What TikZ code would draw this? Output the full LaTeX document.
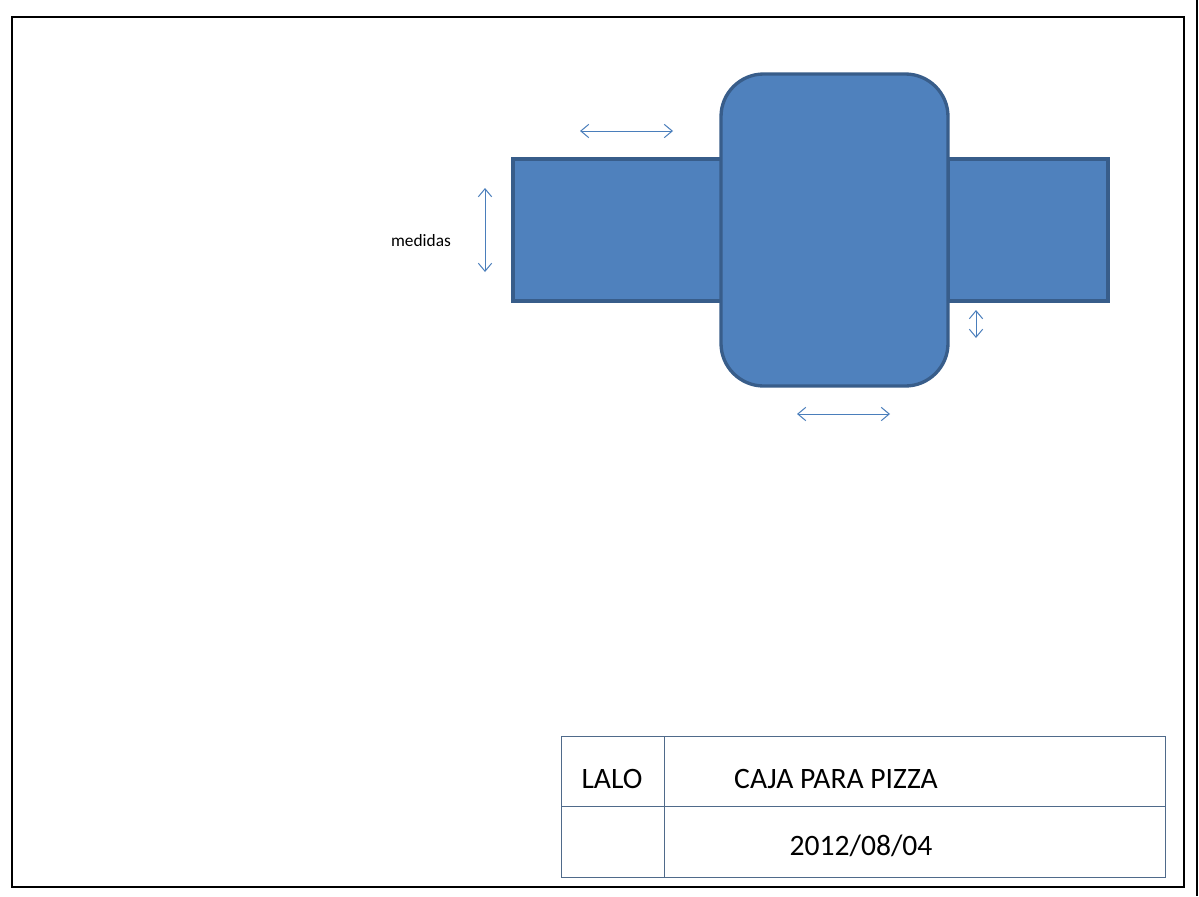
\documentclass[tikz,border=0pt]{standalone}
\usepackage{fontspec}
\setmainfont{Carlito}
\usetikzlibrary{arrows.meta}
\definecolor{shapefill}{HTML}{4F81BD}
\definecolor{shapeline}{HTML}{385D8A}
\definecolor{dimline}{HTML}{4A7EBB}
\definecolor{tbline}{HTML}{4F6A8A}
\tikzset{
  panel/.style={fill=shapefill,draw=shapeline,line width=2.5pt},
  dimarrow/.style={draw=dimline,line width=0.75pt,{Straight Barb[length=6pt,width=10pt]}-{Straight Barb[length=6pt,width=10pt]}},
  tblock/.style={draw=tbline,line width=0.75pt},
  label/.style={inner sep=0pt,font=\fontsize{22.2}{26}\selectfont},
}
\begin{document}
\begin{tikzpicture}[x=0.75pt,y=-0.75pt]
\useasboundingbox (0,0) rectangle (1199,896);
\fill[white] (0,0) rectangle (1199,896);
% outer frame
\draw[black,line width=1.4pt] (12,17) rectangle (1184,887);
\draw[black,line width=1.4pt] (1197,0) -- (1197,896);
% side flaps
\draw[panel] (513,159) rectangle (722,301);
\draw[panel] (948,159) rectangle (1108,301);
% central box
\draw[panel,rounded corners=32pt] (721,74) rectangle (948,386);
% dimension arrows
\coordinate (t1) at (580,131); \coordinate (t2) at (673,131);
\coordinate (l1) at (485,188); \coordinate (l2) at (485,272);
\coordinate (s1) at (976,310); \coordinate (s2) at (976,338);
\coordinate (b1) at (797,414); \coordinate (b2) at (890,414);
\draw[dimarrow] (t1) -- (t2);
\draw[dimarrow] (l1) -- (l2);
\draw[dimarrow] (s1) -- (s2);
\draw[dimarrow] (b1) -- (b2);
\node[inner sep=0pt,font=\fontsize{13}{16}\selectfont] (med) at (421,241) {medidas};
% title block
\draw[tblock] (561,736) rectangle (1165,877);
\draw[tblock] (664,736) -- (664,877);
\draw[tblock] (561,806) -- (1165,806);
\node[label] (lalo) at (612,779) {LALO};
\node[label] (title) at (836,779) {CAJA PARA PIZZA};
\node[label] (date) at (861,846) {2012/08/04};
\end{tikzpicture}
\end{document}
